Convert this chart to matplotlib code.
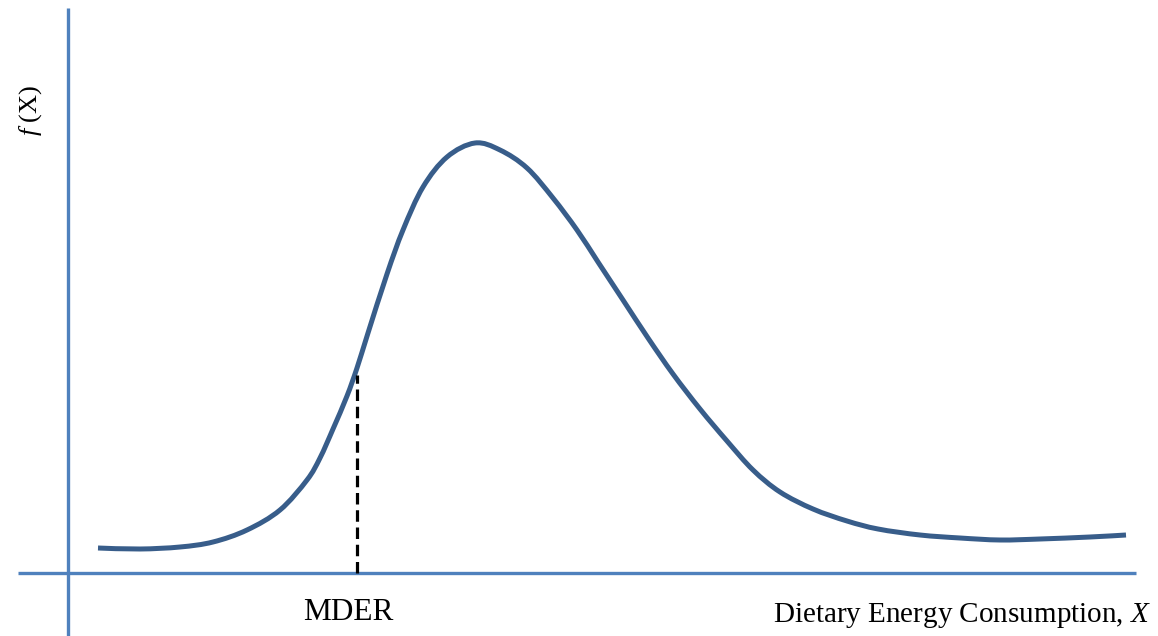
import matplotlib
matplotlib.use("Agg")
import matplotlib.pyplot as plt
from matplotlib.path import Path
from matplotlib.patches import PathPatch

# Density curve (x in horizontal units, f = height above the X axis)
curve_x = [98, 140, 180, 213, 247, 280, 307, 320, 333, 347, 357, 368, 387, 403, 423,
           447, 475, 500, 527, 553, 577, 598, 623, 648, 673, 700, 727, 753, 780, 813,
           847, 878, 920, 960, 1000, 1040, 1090, 1126]
curve_f = [25, 24, 26, 31, 43, 63, 93, 115, 144, 177, 205, 240, 299, 343, 386,
           416, 430, 423, 405, 375, 343, 311, 273, 235, 199, 164, 132, 103, 81, 64,
           52, 44, 38, 35, 33, 34, 36, 38]

mder_x = 357
mder_f = 198

x_axis_label = "Dietary Energy Consumption, $X$"
y_axis_label = "$f$ (X)"
mder_label = "MDER"

plt.rcParams["mathtext.fontset"] = "custom"
plt.rcParams["mathtext.rm"] = "Liberation Serif"
plt.rcParams["mathtext.it"] = "Liberation Serif:italic"

fig = plt.figure(figsize=(11.58, 6.36), dpi=100)
ax = fig.add_axes([0, 0, 1, 1])
ax.set_xlim(0, 1158)
ax.set_ylim(-63, 573)
ax.axis("off")

axis_color = "#4F81BD"
# axes lines
ax.plot([68, 68], [-63, 565], color=axis_color, lw=2.4, solid_capstyle="butt")
ax.plot([18, 1136], [0, 0], color=axis_color, lw=2.4, solid_capstyle="butt")

# density curve: smooth Catmull-Rom path through the read points
pts = list(zip(curve_x, curve_f))
n = len(pts)
verts = [pts[0]]
codes = [Path.MOVETO]
for i in range(n - 1):
    p0 = pts[i - 1] if i > 0 else pts[i]
    p1 = pts[i]
    p2 = pts[i + 1]
    p3 = pts[i + 2] if i + 2 < n else pts[i + 1]
    c1 = (p1[0] + (p2[0] - p0[0]) / 6.0, p1[1] + (p2[1] - p0[1]) / 6.0)
    c2 = (p2[0] - (p3[0] - p1[0]) / 6.0, p2[1] - (p3[1] - p1[1]) / 6.0)
    verts += [c1, c2, p2]
    codes += [Path.CURVE4, Path.CURVE4, Path.CURVE4]
ax.add_patch(PathPatch(Path(verts, codes), facecolor="none", edgecolor="#385D8A",
                       lw=3.6, capstyle="butt", joinstyle="round"))

# MDER dashed line
ax.plot([mder_x, mder_x], [0, mder_f], color="black", lw=2.3,
        linestyle=(0, (3.6, 1.8)))

ax.text(mder_x - 9, -40, mder_label, fontsize=22.5, family="Liberation Serif",
        ha="center", va="center")
ax.text(1151, -42, x_axis_label, fontsize=21, family="Liberation Serif",
        ha="right", va="center")
ax.text(31, 463, y_axis_label, fontsize=19, family="Liberation Serif",
        rotation=90, ha="center", va="center")

fig.savefig("out.png", dpi=100)
